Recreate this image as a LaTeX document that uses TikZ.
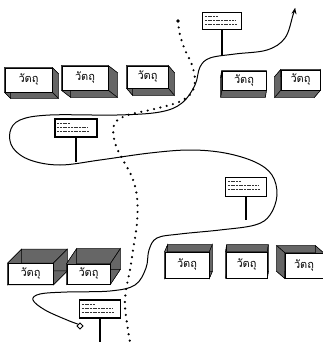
\documentclass[tikz,border=0pt]{standalone}
\usepackage{fontspec}
\newfontfamily\thaifont[Script=Thai]{Loma}
\usetikzlibrary{calc, arrows.meta, shapes.geometric, backgrounds}

\tikzset{
  objface/.style={draw, line width=0.7pt, fill=white, inner sep=0pt,
                  font=\thaifont\fontsize{11}{12}\selectfont},
  objside/.style={draw, line width=0.5pt, fill=black!60},
  signboard/.style={draw, line width=1.3pt, fill=white, inner sep=0pt},
  signpole/.style={line width=1.3pt},
  scribble/.style={line width=0.4pt, black!80, dash pattern=on 2pt off 0.7pt},
  route/.style={line width=1pt, -{Stealth[length=6pt, width=5pt]}},
  walkway/.style={line width=2.4pt, line cap=round, dash pattern=on 0pt off 6.5pt},
}

% object box: name, centre, width, height, depth shift
\newcommand{\objbox}[5]{%
  \node[objface, minimum width=#3pt, minimum height=#4pt] (#1) at (#2) {วัตถุ};
  \begin{scope}[on background layer]
    \filldraw[objside] (#1.north west) -- (#1.north east) -- ($(#1.north east)+(#5)$) -- ($(#1.north west)+(#5)$) -- cycle;
    \filldraw[objside] (#1.north east) -- (#1.south east) -- ($(#1.south east)+(#5)$) -- ($(#1.north east)+(#5)$) -- cycle;
    \filldraw[objside] (#1.south east) -- (#1.south west) -- ($(#1.south west)+(#5)$) -- ($(#1.south east)+(#5)$) -- cycle;
    \filldraw[objside] (#1.south west) -- (#1.north west) -- ($(#1.north west)+(#5)$) -- ($(#1.south west)+(#5)$) -- cycle;
  \end{scope}}

% sign: name, centre, width, height, foot of the pole
\newcommand{\signpost}[5]{%
  \node[signboard, minimum width=#3pt, minimum height=#4pt] (#1) at (#2) {};
  \draw[signpole] (#1.south) -- (#1.south |- #5);
  \draw[scribble] ($(#1.north west)+(3,4.5)$) -- ++(13,0);
  \draw[scribble] ($(#1.north west)+(3,8.5)$) -- ++(30,0);
  \draw[scribble] ($(#1.north west)+(3,12.5)$) -- ++(32,0);}

\begin{document}
\begin{tikzpicture}[x=1pt, y=-1pt]
  \useasboundingbox (0,0) rectangle (323,342);

  % upper row of objects
  \objbox{obja}{28.5,80}{47}{24}{6,6}
  \objbox{objb}{85,78}{46}{24}{9,7}
  \objbox{objc}{147.5,77}{41}{22}{6,7}
  \objbox{objd}{244,80.5}{44}{19}{-1,7}
  \objbox{obje}{300.5,80}{39}{20}{-6,7}

  % lower row of objects
  \objbox{objf}{30.5,274}{45}{21}{14,-14}
  \objbox{objg}{88.5,274}{43}{20}{10,-15}
  \objbox{objh}{187,265}{44}{26}{3,-7}
  \objbox{obji}{246.5,265}{41}{26}{1,-7}
  \objbox{objj}{304,265.5}{38}{25}{-8,-7}

  % signs along the way
  \coordinate (foot1) at (222,56);
  \coordinate (foot2) at (77,162);
  \coordinate (foot3) at (246,220);
  \coordinate (foot4) at (100,342);
  \signpost{sign1}{222,21}{39}{17}{foot1}
  \signpost{sign2}{76,128}{42}{18}{foot2}
  \signpost{sign3}{246,187}{41}{19}{foot3}
  \signpost{sign4}{100,309}{41}{18}{foot4}

  % dotted walk
  \node[circle, fill, inner sep=1.4pt] (walk) at (178,21) {};
  \draw[walkway] plot[smooth, tension=0.6] coordinates {(walk) (180,35) (185,50) (192,65)
    (195,80) (192,92) (183,100) (170,105) (150,110) (125,116) (114,125) (115,143)
    (123,160) (132,177) (137,197) (137,223) (133,250) (130,270) (126,290) (125,307)
    (128,330) (130,342)};

  % winding route
  \node[draw, diamond, fill=white, line width=0.8pt, inner sep=1.6pt] (start) at (80,326) {};
  \coordinate (goal) at (295,8);
  \draw[route] plot[smooth, tension=0.6] coordinates {(start.north west) (67,320) (45,310)
    (33,300) (40,294) (67,292) (110,291) (135,285) (146,268) (149,250) (157,238)
    (180,234) (220,230) (255,225) (270,215) (277,195) (272,175) (255,162) (225,153)
    (190,150) (150,153) (100,160) (60,165) (30,160) (13,148) (10,132) (20,120)
    (50,115) (117,115) (160,112) (182,103) (195,85) (200,67) (210,58) (235,54)
    (267,50) (285,38) (293,15) (goal)};
\end{tikzpicture}
\end{document}
